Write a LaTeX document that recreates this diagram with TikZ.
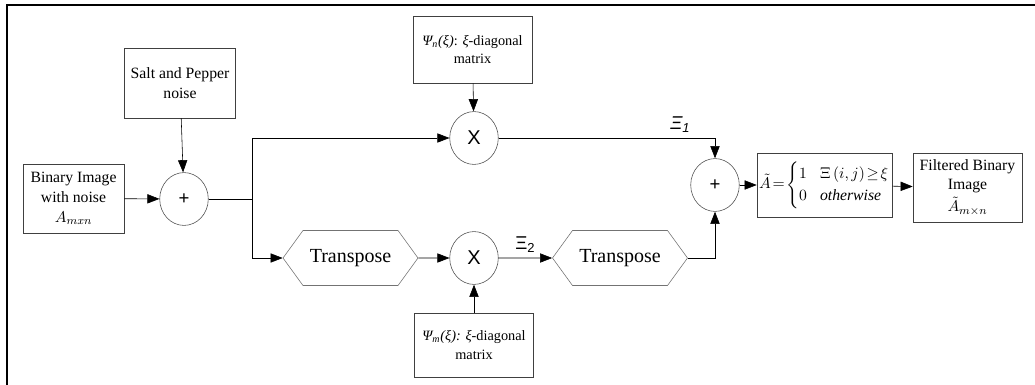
\documentclass[tikz,border=0pt]{standalone}
\usepackage{amsmath}
\usepackage{fontspec}
\setmainfont{Liberation Serif}
\newfontfamily\arialfont{Liberation Sans}
\usetikzlibrary{arrows.meta,shapes.geometric,shapes.symbols}

\begin{document}
\begin{tikzpicture}[x=0.7pt, y=-0.7pt,
	box/.style={draw=black!75, align=center, inner sep=1pt, font=\fontsize{11}{14}\selectfont},
	op/.style={ellipse, draw=black!70, minimum width=34pt, minimum height=37pt, inner sep=0pt, font=\arialfont},
	tr/.style={signal, signal to=east and west, signal pointer angle=108, draw=black!55,
		minimum width=94.5pt, minimum height=38.5pt, inner sep=0pt, font=\fontsize{14}{16}\selectfont},
	arr/.style={-{Triangle[length=8.5pt,width=6.5pt]}}]

\useasboundingbox (0,0) rectangle (1035,385);
\draw[line width=1.4pt] (7,385) -- (7,5) -- (1035,5);

% Entrada
\node[box, minimum width=70.7pt, minimum height=48.3pt] (img) at (73.5,198.5) {Binary Image\\with noise\\$A_{mxn}$};
\node[box, minimum width=77.7pt, minimum height=49pt] (sp) at (180,83) {Salt and Pepper\\noise};
\node[op, font=\arialfont\fontsize{13}{13}\selectfont] (s1) at (184,199) {+};
\coordinate (J) at (252,199);

% Rama superior
\node[box, minimum width=83.3pt, minimum height=47pt, font=\fontsize{10}{13}\selectfont] (psiN) at (472.5,49.5) {\textit{Ψ\textsubscript{n}(ξ)}: \textit{ξ}-diagonal\\matrix};
\node[op, font=\arialfont\fontsize{14}{16}\selectfont] (m1) at (474,138) {X};

% Rama inferior
\node[tr] (t1) at (350.5,258) {Transpose};
\node[op, font=\arialfont\fontsize{14}{16}\selectfont] (m2) at (474,258) {X};
\node[tr] (t2) at (620,258) {Transpose};
\node[box, minimum width=83.3pt, minimum height=45pt, font=\fontsize{10}{13}\selectfont] (psiM) at (474,345) {\textit{Ψ\textsubscript{m}(ξ): ξ}-diagonal\\matrix};

% Salida
\node[op, font=\arialfont\fontsize{13}{13}\selectfont] (s2) at (715,185) {+};
\node[box, minimum width=87.5pt, minimum height=44.8pt, inner sep=1.5pt, font=\fontsize{11}{13}\selectfont] (thr) at (824.5,185)
	{$\tilde{A}\!=\!\begin{cases}1 & \!\Xi\left(i,j\right)\!\geq\!\xi\\ 0 & \!\textit{otherwise}\end{cases}$};
\node[box, minimum width=76.3pt, minimum height=48.3pt, font=\fontsize{11}{13.5}\selectfont] (out) at (967.5,187.5) {Filtered Binary\\Image\\[2pt]$\tilde{A}_{m\times n}$};

% Conexiones
\draw[arr] (img) -- (s1);
\draw[arr] (sp) -- (s1);
\draw (s1) -- (J);
\draw[arr] (J) |- (m1);
\draw[arr] (J) |- (t1);
\draw[arr] (psiN) -- (m1);
\draw[arr] (psiM) -- (m2);
\draw[arr] (t1) -- (m2);
\draw[arr] (m2) -- node[above, font=\arialfont\fontsize{13}{13}\selectfont] {Ξ\textsubscript{2}} (t2);
\draw[arr] (m1) -| node[pos=0.42, above, font=\arialfont\itshape\fontsize{13}{13}\selectfont] {Ξ\textsubscript{1}} (s2);
\draw[arr] (t2) -| (s2);
\draw[arr] (s2) -- (thr);
\draw[arr] (thr) -- (out);
\end{tikzpicture}
\end{document}
